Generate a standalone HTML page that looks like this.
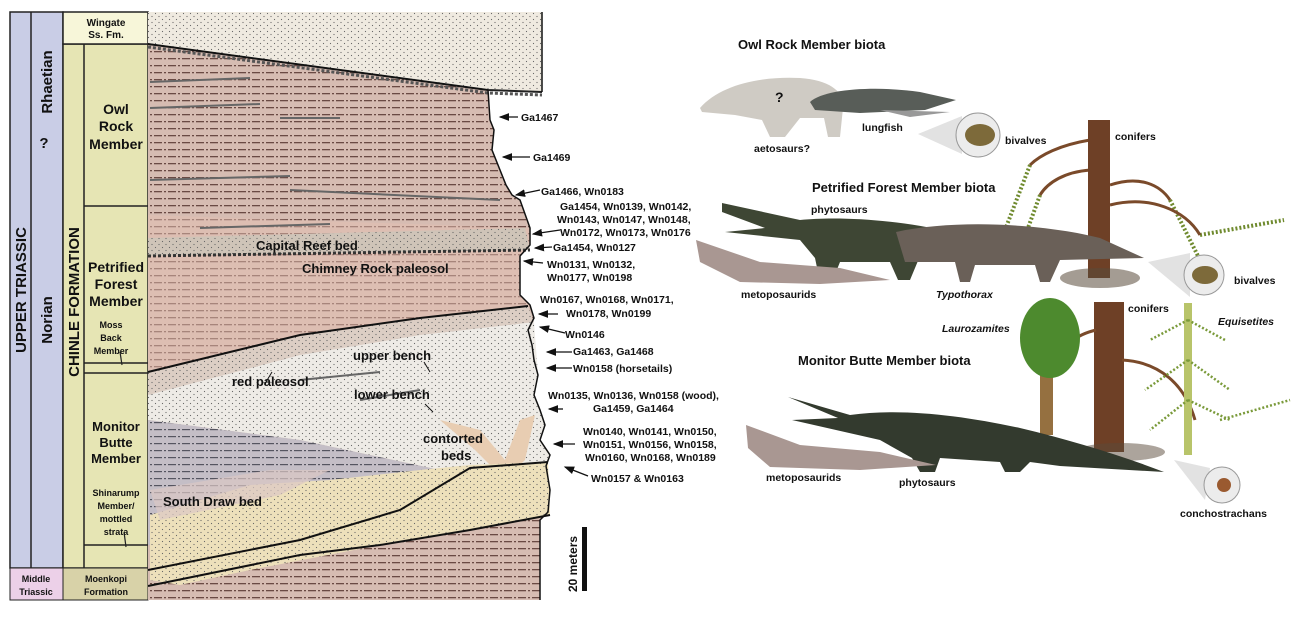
<!DOCTYPE html>
<html><head><meta charset="utf-8"><style>
html,body{margin:0;padding:0;background:#fff;}
svg{display:block;font-family:"Liberation Sans",Arial,sans-serif;}
.t{font-size:10.5px;font-weight:bold;fill:#111;}
.m{font-weight:bold;fill:#111;}
</style></head><body>
<svg width="1300" height="620" viewBox="0 0 1300 620" xmlns="http://www.w3.org/2000/svg">
<defs>
<pattern id="dash" width="14" height="7" patternUnits="userSpaceOnUse">
<rect x="0" y="2" width="8" height="1.3" fill="#6a4a44"/><rect x="10" y="2" width="2" height="1.3" fill="#6a4a44"/>
</pattern>
<pattern id="dashg" width="14" height="7" patternUnits="userSpaceOnUse">
<rect x="0" y="2" width="8" height="1.2" fill="#555560"/><rect x="10" y="2" width="2" height="1.2" fill="#555560"/>
</pattern>
<pattern id="dot" width="7" height="6" patternUnits="userSpaceOnUse">
<circle cx="1.5" cy="1.5" r="0.6" fill="#666"/><circle cx="5" cy="4.5" r="0.6" fill="#666"/>
</pattern>
<marker id="ar" markerWidth="8" markerHeight="6" refX="7" refY="3" orient="auto"><path d="M0,0 L8,3 L0,6 Z" fill="#111"/></marker>
</defs>

<rect x="10" y="12" width="53" height="556" fill="#c9cde6" stroke="#222" stroke-width="1.5"/>
<line x1="31" y1="12" x2="31" y2="568" stroke="#222" stroke-width="1.5"/>
<rect x="63" y="44" width="85" height="524" fill="#e6e5b4" stroke="#222" stroke-width="1.5"/>
<line x1="84" y1="44" x2="84" y2="568" stroke="#222" stroke-width="1.5"/>
<rect x="63" y="12" width="85" height="32" fill="#f7f6d9" stroke="#222" stroke-width="1.5"/>
<line x1="84" y1="206" x2="148" y2="206" stroke="#222" stroke-width="1.5"/>
<line x1="84" y1="363" x2="148" y2="363" stroke="#222" stroke-width="1.5"/>
<line x1="84" y1="373" x2="148" y2="373" stroke="#222" stroke-width="1.5"/>
<line x1="84" y1="545" x2="148" y2="545" stroke="#222" stroke-width="1.5"/>
<line x1="120" y1="352" x2="122" y2="365" stroke="#222" stroke-width="1.2"/>
<line x1="124" y1="532" x2="126" y2="547" stroke="#222" stroke-width="1.2"/>
<rect x="10" y="568" width="53" height="32" fill="#ecd0e8" stroke="#222" stroke-width="1"/>
<rect x="63" y="568" width="85" height="32" fill="#d8d2a8" stroke="#222" stroke-width="1"/>

<text class="m" font-size="15" transform="translate(26,290) rotate(-90)" text-anchor="middle">UPPER TRIASSIC</text>
<text class="m" font-size="15" transform="translate(52,82) rotate(-90)" text-anchor="middle">Rhaetian</text>
<text class="m" font-size="15" x="44" y="148" text-anchor="middle">?</text>
<text class="m" font-size="15" transform="translate(52,320) rotate(-90)" text-anchor="middle">Norian</text>
<text class="m" font-size="15" transform="translate(79,302) rotate(-90)" text-anchor="middle">CHINLE FORMATION</text>
<text class="m" font-size="10" x="106" y="26" text-anchor="middle">Wingate</text>
<text class="m" font-size="10" x="106" y="38" text-anchor="middle">Ss. Fm.</text>
<text class="m" font-size="14" x="116" y="114" text-anchor="middle">Owl</text>
<text class="m" font-size="14" x="116" y="131" text-anchor="middle">Rock</text>
<text class="m" font-size="14" x="116" y="149" text-anchor="middle">Member</text>
<text class="m" font-size="14" x="116" y="272" text-anchor="middle">Petrified</text>
<text class="m" font-size="14" x="116" y="289" text-anchor="middle">Forest</text>
<text class="m" font-size="14" x="116" y="306" text-anchor="middle">Member</text>
<text class="m" font-size="9" x="111" y="328" text-anchor="middle">Moss</text>
<text class="m" font-size="9" x="111" y="341" text-anchor="middle">Back</text>
<text class="m" font-size="9" x="111" y="354" text-anchor="middle">Member</text>
<text class="m" font-size="13" x="116" y="431" text-anchor="middle">Monitor</text>
<text class="m" font-size="13" x="116" y="447" text-anchor="middle">Butte</text>
<text class="m" font-size="13" x="116" y="463" text-anchor="middle">Member</text>
<text class="m" font-size="9" x="116" y="496" text-anchor="middle">Shinarump</text>
<text class="m" font-size="9" x="116" y="509" text-anchor="middle">Member/</text>
<text class="m" font-size="9" x="116" y="522" text-anchor="middle">mottled</text>
<text class="m" font-size="9" x="116" y="535" text-anchor="middle">strata</text>
<text class="m" font-size="9" x="36" y="582" text-anchor="middle">Middle</text>
<text class="m" font-size="9" x="36" y="595" text-anchor="middle">Triassic</text>
<text class="m" font-size="9" x="106" y="582" text-anchor="middle">Moenkopi</text>
<text class="m" font-size="9" x="106" y="595" text-anchor="middle">Formation</text>

<path d="M148,44 L488,90 L490,120 L494,130 L492,150 L500,170 L506,185 L512,195 L520,200 L530,228 L530,245 L520,256 L520,295 L530,305 L534,318 L528,330 L532,345 L534,360 L538,375 L534,395 L540,410 L545,425 L540,440 L550,455 L546,466 L550,490 L548,512 L540,520 L540,600 L148,600 Z" fill="#d6bcb2"/>
<path d="M148,44 L488,90 L490,120 L494,130 L492,150 L500,170 L506,185 L512,195 L520,200 L530,228 L530,245 L520,256 L520,295 L530,305 L534,318 L528,330 L532,345 L534,360 L538,375 L534,395 L540,410 L545,425 L540,440 L550,455 L546,466 L550,490 L548,512 L540,520 L540,600 L148,600 Z" fill="url(#dash)"/>
<path d="M148,215 L530,228 L530,245 L520,256 L520,295 L530,305 L148,370 Z" fill="#e4bfb2" opacity="0.5"/>
<path d="M148,238 L525,228 L530,250 L148,256 Z" fill="#cfc4b8"/>
<path d="M148,238 L525,228 L530,250 L148,256 Z" fill="url(#dot)"/>
<path d="M148,256 L530,250" stroke="#333" stroke-width="3" stroke-dasharray="3,2"/>
<path d="M148,372 L300,335 L420,318 L528,306 L534,322 L420,335 L300,355 L148,395 Z" fill="#dccec4"/>
<path d="M148,372 L300,335 L420,318 L528,306 L534,322 L420,335 L300,355 L148,395 Z" fill="url(#dot)"/>
<path d="M300,355 L420,335 L534,322 L538,375 L534,395 L540,410 L545,425 L540,440 L550,455 L546,466 L530,470 L440,470 L300,440 L148,420 L148,395 Z" fill="#eeebe6"/>
<path d="M300,355 L420,335 L534,322 L538,375 L534,395 L540,410 L545,425 L540,440 L550,455 L546,466 L530,470 L440,470 L300,440 L148,420 L148,395 Z" fill="url(#dot)"/>
<path d="M148,420 L300,440 L440,470 L530,470 L546,466 L550,490 L440,520 L300,545 L148,545 Z" fill="#c4bec6"/>
<path d="M148,420 L300,440 L440,470 L530,470 L546,466 L550,490 L440,520 L300,545 L148,545 Z" fill="url(#dashg)"/>
<path d="M440,420 L480,430 L505,460 L520,420 L535,415 L525,460 L505,480 L475,450 Z" fill="#e8cdb2"/>
<path d="M150,515 L250,485 L330,480 L420,470 L470,465 L548,462 L550,515 L470,530 L380,545 L250,570 L180,585 L150,580 Z" fill="#ede0bb"/>
<path d="M150,515 L250,485 L330,480 L420,470 L470,465 L548,462 L550,515 L470,530 L380,545 L250,570 L180,585 L150,580 Z" fill="url(#dot)"/>
<path d="M150,490 L270,470 L330,470 L280,495 L160,520 Z" fill="#dcc8c4" opacity="0.7"/>
<path d="M148,12 L542,12 L542,92 L488,90 L148,44 Z" fill="#efeae0"/>
<path d="M148,12 L542,12 L542,92 L488,90 L148,44 Z" fill="url(#dot)"/>
<path d="M148,44 L488,90 L542,92" stroke="#222" stroke-width="2" fill="none"/>
<path d="M148,45 L488,91 L542,93" stroke="#555" stroke-width="3" stroke-dasharray="3,2" fill="none" transform="translate(0,2)"/>
<g stroke="#666" stroke-width="2" fill="none">
<path d="M150,82 L250,78"/><path d="M150,108 L260,104"/><path d="M280,118 L340,118"/>
<path d="M150,180 L290,176"/><path d="M290,190 L500,200"/><path d="M200,228 L330,224"/>
<path d="M300,380 L380,372"/><path d="M360,400 L420,390"/>
</g>
<g stroke="#111" stroke-width="2" fill="none">
<path d="M148,372 L300,335 L420,318 L528,306"/>
<path d="M148,570 L300,540 L400,510 L470,468 L548,462"/>
<path d="M148,586 L300,555 L380,545 L470,530 L550,515"/>
<path d="M148,44 L488,90 L490,120 L494,130 L492,150 L500,170 L506,185 L512,195 L520,200 L530,228 L530,245 L520,256 L520,295 L530,305 L534,318 L528,330 L532,345 L534,360 L538,375 L534,395 L540,410 L545,425 L540,440 L550,455 L546,466 L550,490 L548,512 L540,520 L540,600" stroke-width="1.5"/>
<path d="M542,12 L542,92" stroke-width="1.5"/>
</g>
<g class="m" font-size="13" fill="#111">
<text x="256" y="250">Capital Reef bed</text>
<text x="302" y="273">Chimney Rock paleosol</text>
<text x="353" y="360">upper bench</text>
<text x="232" y="386">red paleosol</text>
<text x="354" y="399">lower bench</text>
<text x="423" y="443">contorted</text>
<text x="441" y="460">beds</text>
<text x="163" y="506">South Draw bed</text>
</g>
<g stroke="#111" stroke-width="1"><line x1="424" y1="362" x2="430" y2="372"/><line x1="272" y1="372" x2="266" y2="382"/><line x1="425" y1="404" x2="433" y2="412"/></g>

<g stroke="#111" stroke-width="1.3" marker-end="url(#ar)">
<line x1="518" y1="117" x2="500" y2="117"/>
<line x1="530" y1="157" x2="503" y2="157"/>
<line x1="540" y1="190" x2="516" y2="195"/>
<line x1="560" y1="230" x2="533" y2="234"/>
<line x1="552" y1="247" x2="535" y2="248"/>
<line x1="543" y1="263" x2="524" y2="261"/>
<line x1="558" y1="314" x2="539" y2="314"/>
<line x1="565" y1="333" x2="540" y2="327"/>
<line x1="572" y1="352" x2="547" y2="352"/>
<line x1="572" y1="368" x2="547" y2="368"/>
<line x1="563" y1="409" x2="549" y2="409"/>
<line x1="575" y1="444" x2="554" y2="444"/>
<line x1="588" y1="476" x2="565" y2="467"/>
</g>
<g class="t">
<text x="521" y="121">Ga1467</text>
<text x="533" y="161">Ga1469</text>
<text x="541" y="195">Ga1466, Wn0183</text>
<text x="560" y="210">Ga1454, Wn0139, Wn0142,</text>
<text x="557" y="223">Wn0143, Wn0147, Wn0148,</text>
<text x="560" y="236">Wn0172, Wn0173, Wn0176</text>
<text x="553" y="251">Ga1454, Wn0127</text>
<text x="547" y="268">Wn0131, Wn0132,</text>
<text x="547" y="281">Wn0177, Wn0198</text>
<text x="540" y="303">Wn0167, Wn0168, Wn0171,</text>
<text x="566" y="317">Wn0178, Wn0199</text>
<text x="565" y="338">Wn0146</text>
<text x="573" y="355">Ga1463, Ga1468</text>
<text x="573" y="372">Wn0158 (horsetails)</text>
<text x="548" y="399">Wn0135, Wn0136, Wn0158 (wood),</text>
<text x="593" y="412">Ga1459, Ga1464</text>
<text x="583" y="435">Wn0140, Wn0141, Wn0150,</text>
<text x="583" y="448">Wn0151, Wn0156, Wn0158,</text>
<text x="585" y="461">Wn0160, Wn0168, Wn0189</text>
<text x="591" y="482">Wn0157 &amp; Wn0163</text>
</g>
<rect x="582" y="527" width="5" height="64" fill="#111"/>
<text class="m" font-size="12" transform="translate(577,592) rotate(-90)">20 meters</text>

<g class="m" font-size="13">
<text x="738" y="49">Owl Rock Member biota</text>
<text x="812" y="192">Petrified Forest Member biota</text>
<text x="798" y="365">Monitor Butte Member biota</text>
</g>
<path d="M700,108 C720,85 760,76 800,78 C830,80 845,92 843,108 L840,137 L828,137 L824,118 L800,118 L785,137 L770,137 L762,120 L735,115 L702,112 Z" fill="#cfcbc4"/>
<text class="m" font-size="14" x="775" y="102">?</text>
<path d="M810,102 C825,88 880,86 920,92 L956,100 L925,110 L860,113 L815,110 Z" fill="#585d58"/>
<path d="M880,110 L950,112 L910,117 Z" fill="#999"/>
<path d="M918,134 L962,116 L962,154 Z" fill="#e2e2e2"/>
<circle cx="978" cy="135" r="22" fill="#ececec" stroke="#999"/>
<ellipse cx="980" cy="135" rx="15" ry="11" fill="#7d6a3a"/>
<!-- MB plants (behind labels) -->
<rect x="1094" y="302" width="30" height="150" fill="#6e4026"/>
<g stroke="#7a4a2a" stroke-width="3" fill="none">
<path d="M1096,330 C1075,335 1065,345 1060,360"/><path d="M1122,360 C1160,362 1185,385 1195,420"/>
</g>
<rect x="1040" y="350" width="13" height="85" fill="#957040"/>
<ellipse cx="1050" cy="338" rx="30" ry="40" fill="#4d8a2e"/>
<rect x="1184" y="303" width="8" height="152" fill="#b8c46a"/>
<g stroke="#7a9a3a" stroke-width="2.5" fill="none" stroke-dasharray="2,2">
<path d="M1188,320 L1150,340"/><path d="M1188,320 L1225,340"/><path d="M1188,360 L1145,390"/><path d="M1188,360 L1230,390"/>
<path d="M1188,400 L1150,430"/><path d="M1188,400 L1230,420"/><path d="M1220,420 L1290,400"/>
</g>
<ellipse cx="1120" cy="452" rx="45" ry="9" fill="#5a4a3a" opacity="0.5"/>
<path d="M1174,460 L1210,468 L1205,500 Z" fill="#e2e2e2"/>
<circle cx="1222" cy="485" r="18" fill="#ececec" stroke="#999"/>
<circle cx="1224" cy="485" r="7" fill="#9a5a30"/>
<!-- PF conifer -->
<g stroke="#6f8a2e" stroke-width="4" fill="none" stroke-dasharray="2,2">
<path d="M1030,165 L1005,230"/><path d="M1040,195 L1020,250"/><path d="M1170,200 L1200,260"/><path d="M1200,235 L1284,220"/>
</g>
<g stroke="#7a4a2a" stroke-width="3" fill="none">
<path d="M1090,140 C1060,145 1040,155 1030,165"/><path d="M1090,170 C1065,172 1048,182 1040,195"/>
<path d="M1110,185 C1140,175 1160,185 1170,200"/><path d="M1110,205 C1150,195 1185,210 1200,235"/>
</g>
<rect x="1088" y="120" width="22" height="158" fill="#6e4026"/>
<ellipse cx="1100" cy="278" rx="40" ry="10" fill="#5a4a3a" opacity="0.55"/>
<path d="M1148,262 L1190,253 L1190,297 Z" fill="#e2e2e2"/>
<circle cx="1204" cy="275" r="20" fill="#ececec" stroke="#999"/>
<ellipse cx="1205" cy="275" rx="13" ry="9" fill="#7d6a3a"/>
<!-- PF animals -->
<path d="M722,203 L800,220 C840,216 900,220 950,232 L965,252 L920,256 L910,280 L898,280 L890,262 L840,262 L832,282 L820,282 L815,258 L800,240 L725,232 L765,228 L722,212 Z" fill="#3e4634"/>
<path d="M896,232 C960,218 1050,225 1100,238 L1144,258 L1060,260 L1050,282 L1040,282 L1035,265 L975,265 L970,282 L960,282 L955,262 L905,262 Z" fill="#6a6058"/>
<path d="M696,240 L760,262 L840,268 L890,280 L820,284 L740,282 L700,262 Z" fill="#a99792"/>
<!-- MB animals -->
<path d="M788,397 L850,415 C900,408 960,415 1020,428 C1070,440 1120,455 1164,472 L1060,466 L1030,462 L1020,472 L1005,472 L1000,462 L940,458 L935,472 L920,472 L912,458 L880,440 L792,420 L838,418 Z" fill="#333a2e"/>
<path d="M746,425 L800,445 L880,452 L936,465 L860,470 L770,467 L748,448 Z" fill="#a99792"/>
<g class="t">
<text x="862" y="131">lungfish</text>
<text x="754" y="152">aetosaurs?</text>
<text x="1005" y="144">bivalves</text>
<text x="1115" y="140">conifers</text>
<text x="811" y="213">phytosaurs</text>
<text x="741" y="298">metoposaurids</text>
<text x="936" y="298" font-style="italic">Typothorax</text>
<text x="1234" y="284">bivalves</text>
<text x="1128" y="312">conifers</text>
<text x="942" y="332" font-style="italic">Laurozamites</text>
<text x="1218" y="325" font-style="italic">Equisetites</text>
<text x="766" y="481">metoposaurids</text>
<text x="899" y="486">phytosaurs</text>
<text x="1180" y="517">conchostrachans</text>
</g>
</svg>
</body></html>
